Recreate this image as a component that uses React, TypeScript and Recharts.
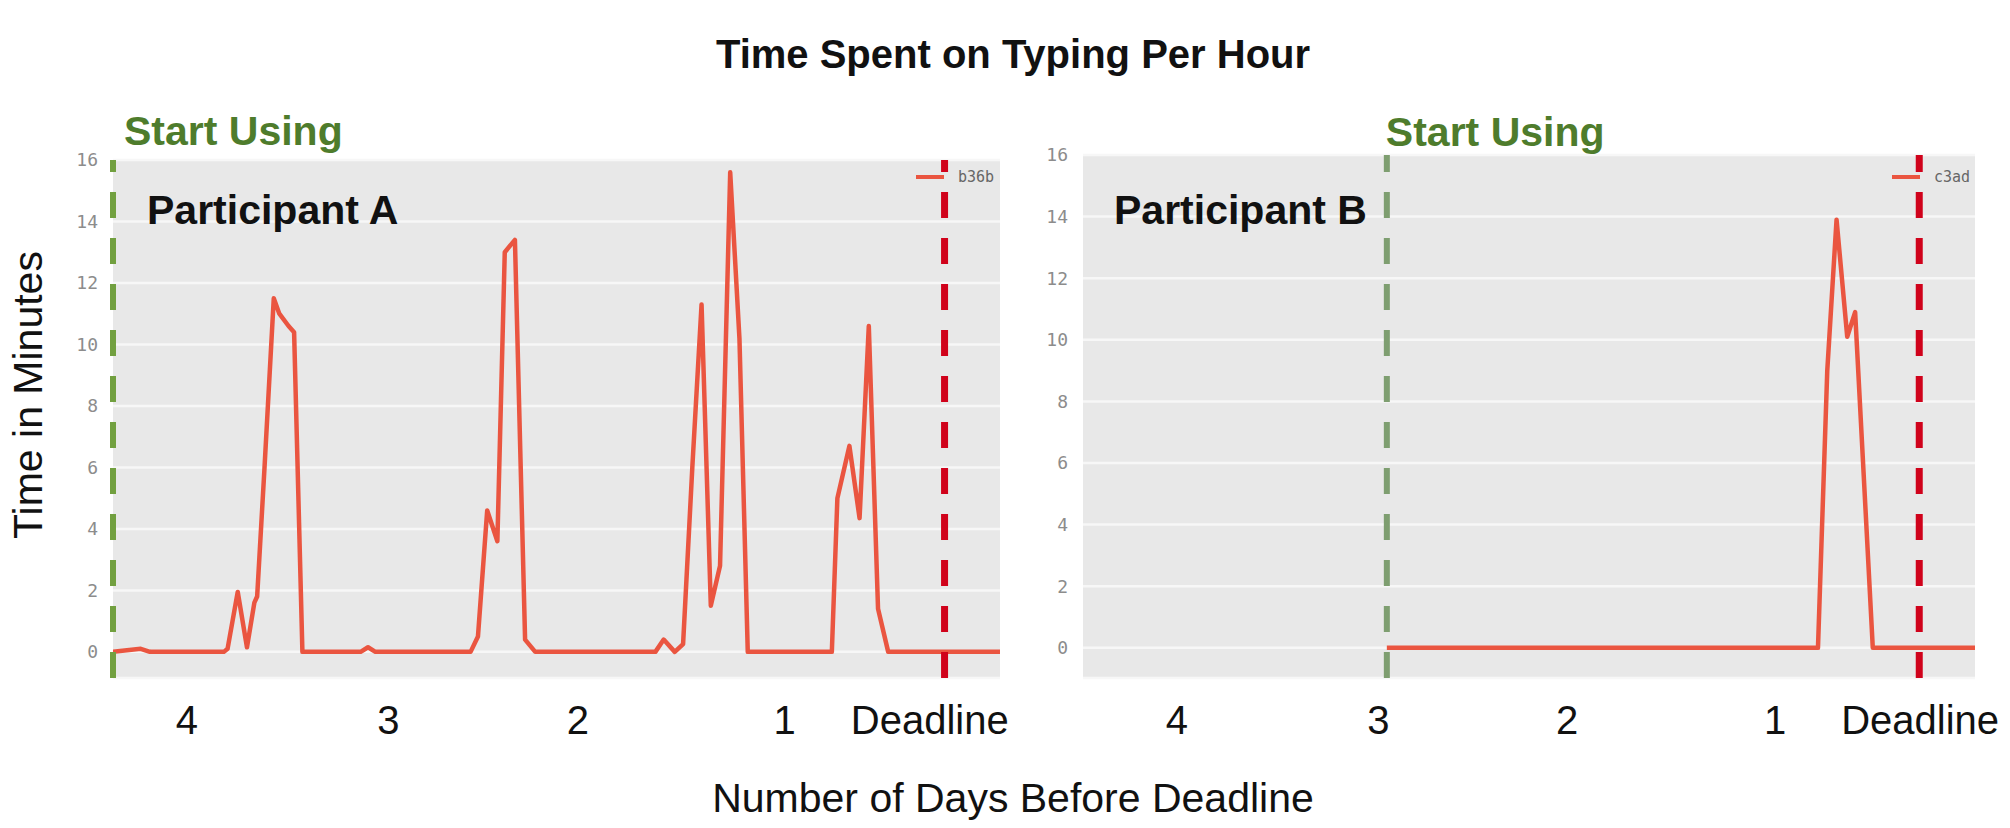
import React from 'react';
import { LineChart, Line, XAxis, YAxis, CartesianGrid, ReferenceLine, Legend } from 'recharts';

// ---- data (hours relative to the deadline, minutes typed in that hour) ----
const hoursA = [-90, -87, -86, -78, -77.6, -76.5, -75.5, -74.7, -74.4, -73.6, -72.6, -72.0, -71.0, -70.4, -69.5,
  -63.2, -62.4, -61.6, -51.3, -50.5, -49.5, -48.4, -47.6, -46.5, -45.4, -44.3,
  -31.3, -30.4, -29.2, -28.3, -27.3, -26.3, -25.3, -24.3, -23.2, -22.2, -21.3,
  -12.2, -11.6, -10.3, -9.2, -8.2, -7.2, -6.1, 6];
const minutesA = [0, 0.1, 0, 0, 0.1, 1.95, 0.15, 1.6, 1.8, 6, 11.5, 11.0, 10.6, 10.4, 0,
  0, 0.15, 0, 0, 0.5, 4.6, 3.6, 13.0, 13.4, 0.4, 0,
  0, 0.4, 0, 0.25, 6, 11.3, 1.5, 2.8, 15.6, 10.2, 0,
  0, 5.0, 6.7, 4.35, 10.6, 1.4, 0, 0];

const hoursB = [-57.3, -10.9, -9.9, -8.9, -7.75, -6.9, -5.0, 6];
const minutesB = [0, 0, 9.0, 13.9, 10.1, 10.9, 0, 0];

const yTicks = [0, 2, 4, 6, 8, 10, 12, 14, 16];
const dayLabels = ['4', '3', '2', '1', 'Deadline'];
const dayTickHoursA = [-82, -60.2, -39.7, -17.3, -1.6];
const dayTickHoursB = [-79.9, -58.2, -37.9, -15.5, 0.1];
const startHourA = -90;
const startHourB = -57.3;
const deadlineHour = 0;
const legendNameA = 'b36b';
const legendNameB = 'c3ad';

const dataA = hoursA.map((h, i) => ({ h, v: minutesA[i] }));
const dataB = hoursB.map((h, i) => ({ h, v: minutesB[i] }));

const SANS = '"Liberation Sans", Arial, Helvetica, sans-serif';
const MONO = '"DejaVu Sans Mono", monospace';
const LINE_COLOR = '#ea5540';
const RED = '#d0021b';

const makeDayTick = (ticks: number[]) => (props: any) => {
  const { x, y, payload } = props;
  const i = ticks.indexOf(payload.value);
  return (
    <text x={x} y={y} dy={56} textAnchor="middle" fontFamily={SANS} fontSize={40} fill="#111">
      {dayLabels[i]}
    </text>
  );
};

const makeStartLabel = (dx: number, lift: number) => (props: any) => {
  const vb = props.viewBox || {};
  return (
    <text x={vb.x + dx} y={vb.y - lift} fontFamily={SANS} fontWeight="bold" fontSize={41} fill="#4e7c2c">
      Start Using
    </text>
  );
};

const makeLegend = (name: string) => () => (
  <svg width={80} height={20} style={{ display: 'block' }}>
    <line x1={0} y1={10} x2={28} y2={10} stroke={LINE_COLOR} strokeWidth={4} />
    <text x={42} y={15} fontFamily={MONO} fontSize={15} fill="#666">{name}</text>
  </svg>
);

interface PanelProps {
  data: { h: number; v: number }[];
  dayTicks: number[];
  startHour: number;
  startColor: string;
  startDx: number;
  startLift: number;
  legendName: string;
  legendLeft: number;
  yDomain: [number, number];
  margin: { top: number; right: number; bottom: number; left: number };
  width: number;
}

function Panel(p: PanelProps) {
  return (
    <LineChart width={p.width} height={828} data={p.data} margin={p.margin}>
      <CartesianGrid vertical={false} fill="#e8e8e8" stroke="#f7f7f7" strokeWidth={2.5} />
      <XAxis
        dataKey="h"
        type="number"
        domain={[-90, 6]}
        ticks={p.dayTicks}
        interval={0}
        tick={makeDayTick(p.dayTicks)}
        tickLine={false}
        axisLine={false}
        tickSize={0}
        tickMargin={0}
        height={60}
        allowDataOverflow
      />
      <YAxis
        type="number"
        domain={p.yDomain}
        ticks={yTicks}
        interval={0}
        tickLine={false}
        axisLine={false}
        tickSize={0}
        tickMargin={15}
        width={60}
        allowDataOverflow
        tick={{ fill: '#8c8c8c', fontSize: 18, fontFamily: MONO }}
      />
      <Line
        type="linear"
        dataKey="v"
        stroke={LINE_COLOR}
        strokeWidth={4.5}
        dot={false}
        strokeLinejoin="round"
        isAnimationActive={false}
      />
      <ReferenceLine
        x={p.startHour}
        stroke={p.startColor}
        strokeWidth={6}
        strokeDasharray="26 20"
        label={makeStartLabel(p.startDx, p.startLift)}
      />
      <ReferenceLine x={deadlineHour} stroke={RED} strokeWidth={7} strokeDasharray="26 20" />
      <Legend
        layout="vertical"
        align="center"
        verticalAlign="middle"
        content={makeLegend(p.legendName)}
        wrapperStyle={{ left: p.legendLeft, top: 167, width: 80, height: 20 }}
      />
    </LineChart>
  );
}

export default function App() {
  return (
    <div style={{ position: 'absolute', left: 0, top: 0, width: 2010, height: 828, background: '#fff', overflow: 'hidden' }}>
      <div style={{ position: 'absolute', left: 0, top: 0 }}>
        <Panel
          data={dataA}
          dayTicks={dayTickHoursA}
          startHour={startHourA}
          startColor="#72a040"
          startDx={11}
          startLift={15}
          legendName={legendNameA}
          legendLeft={916}
          yDomain={[-0.85, 16]}
          margin={{ top: 160, right: 10, bottom: 90, left: 53 }}
          width={1010}
        />
      </div>
      <div style={{ position: 'absolute', left: 1010, top: 0 }}>
        <Panel
          data={dataB}
          dayTicks={dayTickHoursB}
          startHour={startHourB}
          startColor="#7e9e70"
          startDx={-1}
          startLift={9}
          legendName={legendNameB}
          legendLeft={882}
          yDomain={[-0.98, 16]}
          margin={{ top: 155, right: 35, bottom: 90, left: 13 }}
          width={1000}
        />
      </div>
      <svg width={2010} height={828} style={{ position: 'absolute', left: 0, top: 0, pointerEvents: 'none' }}>
        <text x={1013} y={68} textAnchor="middle" fontFamily={SANS} fontWeight="bold" fontSize={40} fill="#111">
          Time Spent on Typing Per Hour
        </text>
        <text x={147} y={224} fontFamily={SANS} fontWeight="bold" fontSize={41} fill="#111">Participant A</text>
        <text x={1114} y={224} fontFamily={SANS} fontWeight="bold" fontSize={41} fill="#111">Participant B</text>
        <text x={1013} y={812} textAnchor="middle" fontFamily={SANS} fontSize={41} fill="#111">
          Number of Days Before Deadline
        </text>
        <text x={42} y={395} textAnchor="middle" fontFamily={SANS} fontSize={41} fill="#111" transform="rotate(-90 42 395)">
          Time in Minutes
        </text>
      </svg>
    </div>
  );
}
